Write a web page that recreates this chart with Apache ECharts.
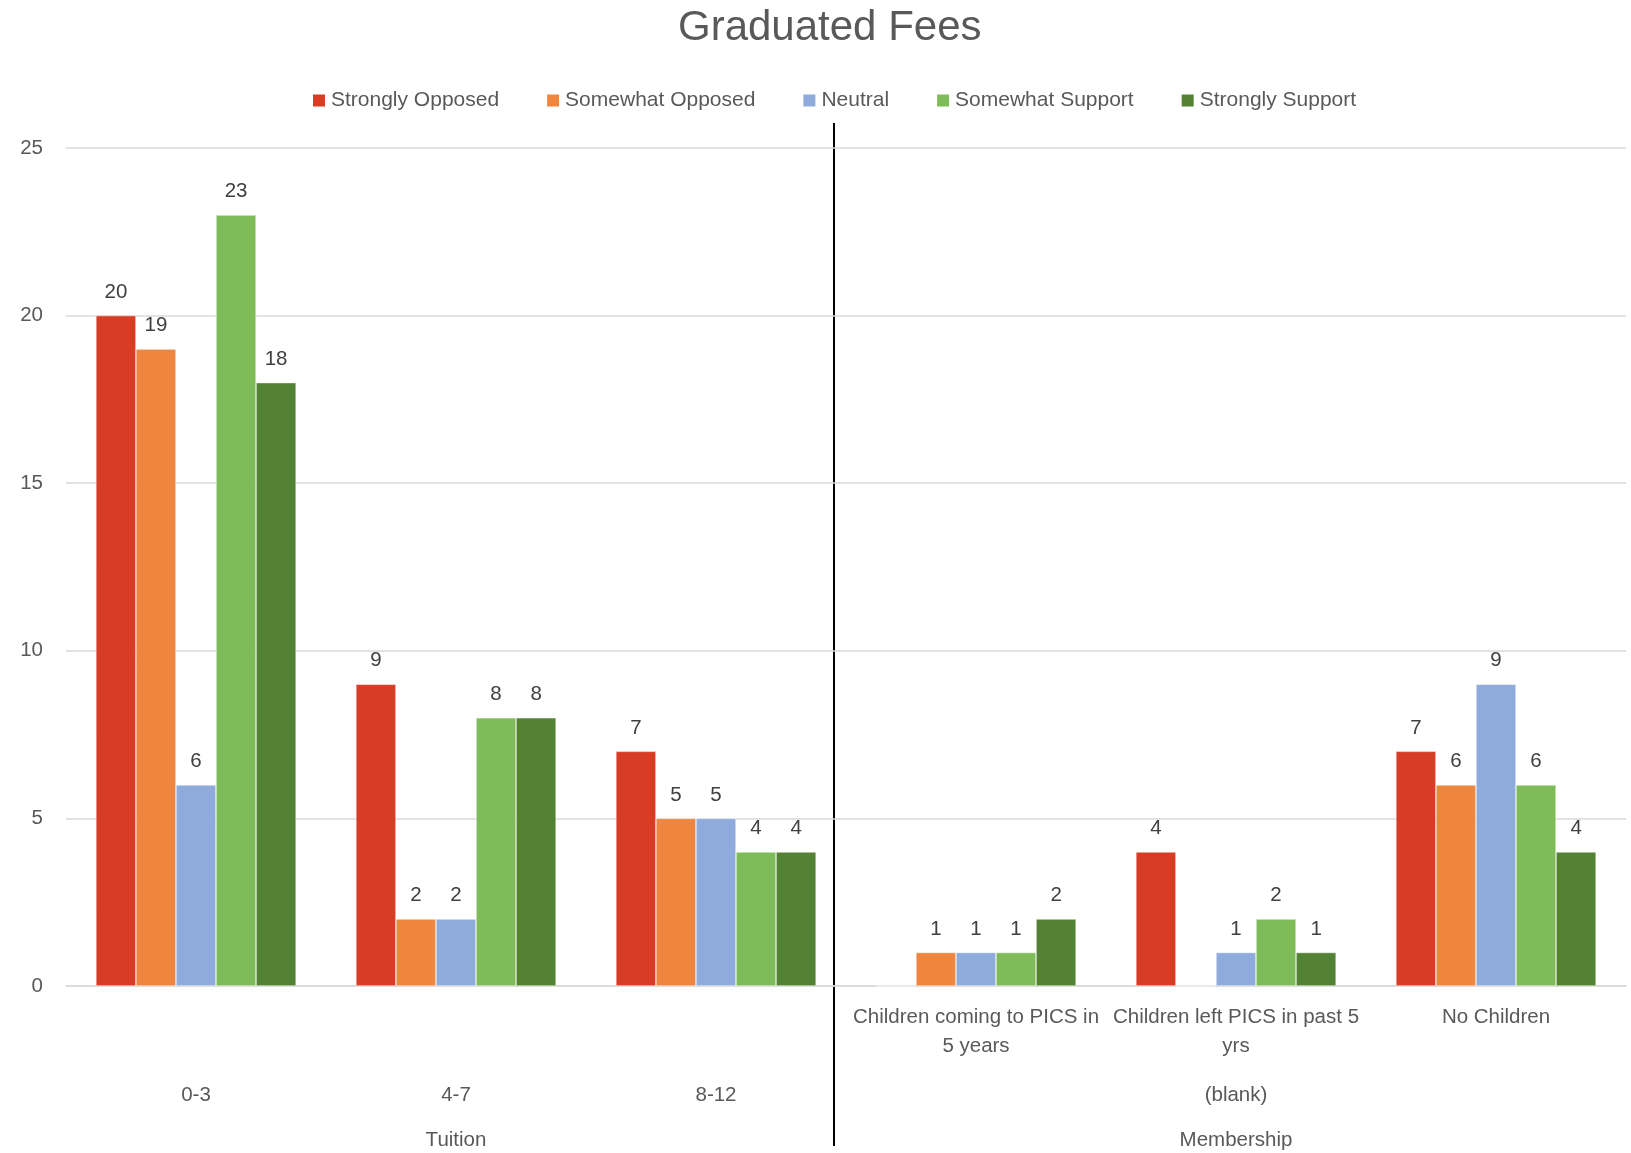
<!DOCTYPE html>
<html>
<head>
<meta charset="utf-8">
<script src="https://cdn.jsdelivr.net/npm/echarts@6/dist/echarts.min.js"></script>
<style>html,body{margin:0;padding:0;background:#fff}#c{width:1631px;height:1153px}</style>
</head>
<body>
<div id="c"></div>
<script>
const leafLabels = ['', '', '', 'Children coming to PICS in\n5 years', 'Children left PICS in past 5\nyrs', 'No Children'];
const level2Labels = ['0-3', '4-7', '8-12', '', '(blank)', ''];
const level3Labels = ['', 'Tuition', '', '', 'Membership', ''];
const seriesNames = ['Strongly Opposed', 'Somewhat Opposed', 'Neutral', 'Somewhat Support', 'Strongly Support'];
const stronglyOpposed = [20, 9, 7, 0, 4, 7];
const somewhatOpposed = [19, 2, 5, 1, 0, 6];
const neutral = [6, 2, 5, 1, 1, 9];
const somewhatSupport = [23, 8, 4, 1, 2, 6];
const stronglySupport = [18, 8, 4, 2, 1, 4];
const colors = ['#D73C25', '#EE8640', '#8FABDC', '#80BB59', '#538234'];
const allValues = [stronglyOpposed, somewhatOpposed, neutral, somewhatSupport, stronglySupport];

const FONT = 'Liberation Sans';
const chart = echarts.init(document.getElementById('c'));
function extraAxis(labels, margin) {
  return {
    type: 'category', gridIndex: 0, position: 'bottom', data: labels,
    axisLine: {show: false}, axisTick: {show: false}, splitLine: {show: false},
    axisLabel: {interval: 0, margin: margin, fontFamily: FONT, fontSize: 20.5, color: '#595959', lineHeight: 28}
  };
}
chart.setOption({
  animation: false,
  color: colors,
  title: {text: 'Graduated Fees', left: 673, top: 2,
    textStyle: {fontFamily: FONT, fontSize: 42, fontWeight: 'normal', color: '#595959'}},
  legend: {top: 85, left: 306, itemWidth: 14, itemHeight: 14, itemGap: 46, icon: 'rect',
    textStyle: {fontFamily: FONT, fontSize: 21, color: '#595959'}, data: seriesNames},
  grid: {left: 66, right: 5, top: 148, bottom: 167, containLabel: false, outerBoundsMode: 'none'},
  xAxis: [
    {type: 'category', data: leafLabels,
      axisLine: {show: true, lineStyle: {color: '#D9D9D9', width: 1.5}}, axisTick: {show: false},
      axisLabel: {interval: 0, margin: 17, fontFamily: FONT, fontSize: 20.5, color: '#595959', lineHeight: 29}},
    extraAxis(level2Labels, 95),
    extraAxis(level3Labels, 140)
  ],
  yAxis: {type: 'value', min: 0, max: 25, interval: 5,
    axisLine: {show: false}, axisTick: {show: false},
    splitLine: {lineStyle: {color: '#D9D9D9', width: 1.5}},
    axisLabel: {margin: 23, fontFamily: FONT, fontSize: 20.5, color: '#595959'}},
  series: seriesNames.map((n, i) => ({
    name: n, type: 'bar', xAxisIndex: 0, data: allValues[i],
    barGap: '0%', barCategoryGap: '23%',
    itemStyle: {color: colors[i], borderColor: '#ffffff', borderWidth: 0.5},
    label: {show: true, position: 'top', distance: 13, fontFamily: FONT, fontSize: 20.5, color: '#404040',
      formatter: p => p.value === 0 ? '' : String(p.value)}
  })),
  graphic: [{type: 'line', shape: {x1: 834, y1: 123, x2: 834, y2: 1146}, style: {stroke: '#000', lineWidth: 2}}]
});
</script>
</body>
</html>
